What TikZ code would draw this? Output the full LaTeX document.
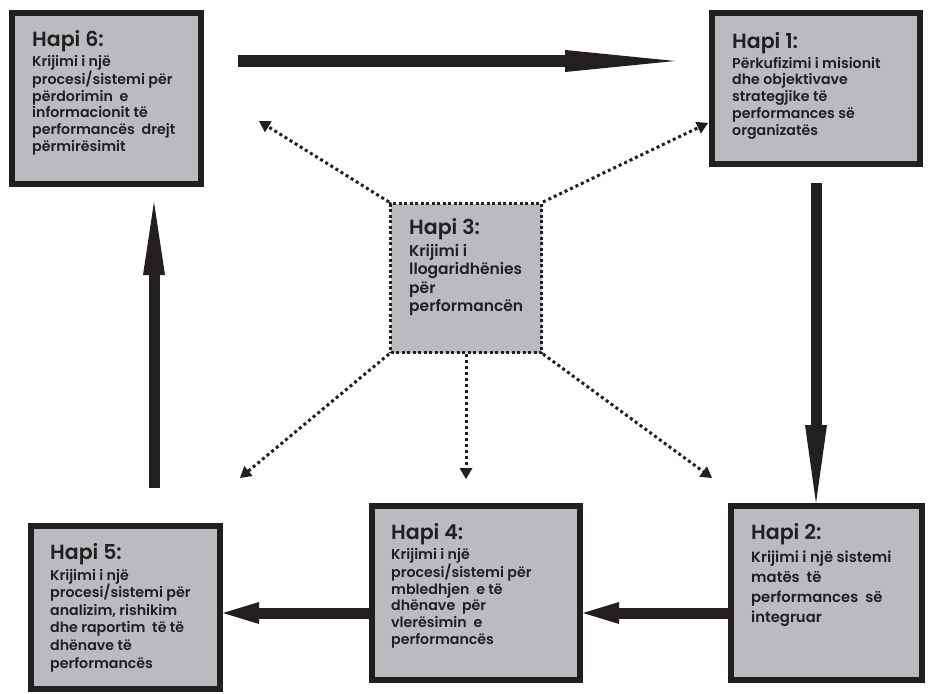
\documentclass[tikz,border=0pt]{standalone}
\usepackage{fontspec}
\setmainfont{Poppins}[BoldFont={Poppins SemiBold}]
\usetikzlibrary{arrows.meta,positioning}
\definecolor{boxgray}{RGB}{186,187,191}
\definecolor{inkblack}{RGB}{35,31,32}
\tikzset{
  stepbox/.style={draw=inkblack, fill=boxgray, line width=6pt, inner sep=0pt},
  centerbox/.style={draw=inkblack, fill=boxgray, line width=3pt, dash pattern=on 3pt off 2.5pt, inner sep=0pt},
  steptext/.style={anchor=north west, align=left, inner sep=0pt, text=inkblack, font=\bfseries\fontsize{14.2}{16.7}\selectfont},
  bigflow/.style={draw=inkblack, line width=11pt, -{Triangle[length=#1, width=22pt, line width=0pt]}},
  dotflow/.style={draw=inkblack, line width=3pt, dash pattern=on 3pt off 3pt, -{Triangle[length=11pt, width=13pt, line width=0pt]}},
}
\newcommand{\hapititle}[1]{{\fontsize{20.5}{20}\selectfont Hapi #1:}\\[3.3pt]}
\begin{document}
\begin{tikzpicture}[x=1pt, y=-1pt]
  \useasboundingbox (0,0) rectangle (933,693);
  % kutitë
  \node[stepbox, minimum width=189pt, minimum height=171pt] (h6) at (106.5,98.5) {};
  \node[stepbox, minimum width=208pt, minimum height=151pt] (h1) at (816,88.5) {};
  \node[centerbox, minimum width=151pt, minimum height=149pt] (h3) at (466,278) {};
  \node[stepbox, minimum width=189pt, minimum height=163pt] (h5) at (125.5,607.5) {};
  \node[stepbox, minimum width=208pt, minimum height=174pt] (h4) at (476,593) {};
  \node[stepbox, minimum width=191pt, minimum height=174pt] (h2) at (826.5,593) {};
  % tekstet
  \node[steptext] (h6t) at ([shift={(23,20)}]h6.north west)
    {\hapititle{6}Krijimi i një\\procesi/sistemi për\\përdorimin~ e\\informacionit të\\performancës~ drejt\\përmirësimit};
  \node[steptext] (h1t) at ([shift={(23,22)}]h1.north west)
    {\hapititle{1}Përkufizimi i misionit\\dhe objektivave\\strategjike të\\performances së\\organizatës};
  \node[steptext, font=\bfseries\fontsize{15.5}{18.5}\selectfont] (h3t) at ([shift={(20,16)}]h3.north west)
    {\hapititle{3}Krijimi i\\llogaridhënies\\për\\performancën};
  \node[steptext, font=\bfseries\fontsize{14.2}{17.6}\selectfont] (h5t) at ([shift={(22,20)}]h5.north west)
    {\hapititle{5}Krijimi i një\\procesi/sistemi për\\analizim, rishikim\\dhe raportim~ të të\\dhënave të\\performancës};
  \node[steptext] (h4t) at ([shift={(22,20)}]h4.north west)
    {\hapititle{4}Krijimi i një\\procesi/sistemi për\\mbledhjen~ e të\\dhënave~ për\\vlerësimin~ e\\performancës};
  \node[steptext, font=\bfseries\fontsize{14.8}{20}\selectfont] (h2t) at ([shift={(23,20)}]h2.north west)
    {\hapititle{2}Krijimi i një sistemi\\matës~ të\\performances~ së\\integruar};
  % shigjetat e ciklit
  \draw[bigflow=110pt] ([shift={(34,51)}]h6.north east) -- ([shift={(-34,51)}]h1.north west);
  \draw[bigflow=78pt] ([yshift=-16pt]h1.south) -- (h1.south |- h2.north);
  \draw[bigflow=36pt] ([shift={(0,20)}]h2.west) -- ([shift={(0,20)}]h4.east);
  \draw[bigflow=36pt] ([shift={(0,20)}]h4.west) -- ([shift={(0,5.5)}]h5.east);
  \draw[bigflow=73pt] ([shift={(28.5,-35)}]h5.north) -- ([shift={(47.5,15)}]h6.south);
  % shigjetat me pika nga Hapi 3
  \coordinate (t6) at (259,121);
  \coordinate (t1) at (708,123);
  \coordinate (t5) at (240,478);
  \coordinate (t4) at (466,479);
  \coordinate (t2) at (712,478);
  \draw[dotflow] (h3.north west) -- (t6);
  \draw[dotflow] (h3.north east) -- (t1);
  \draw[dotflow] (h3.south west) -- (t5);
  \draw[dotflow] (h3.south) -- (t4);
  \draw[dotflow] (h3.south east) -- (t2);
\end{tikzpicture}
\end{document}
